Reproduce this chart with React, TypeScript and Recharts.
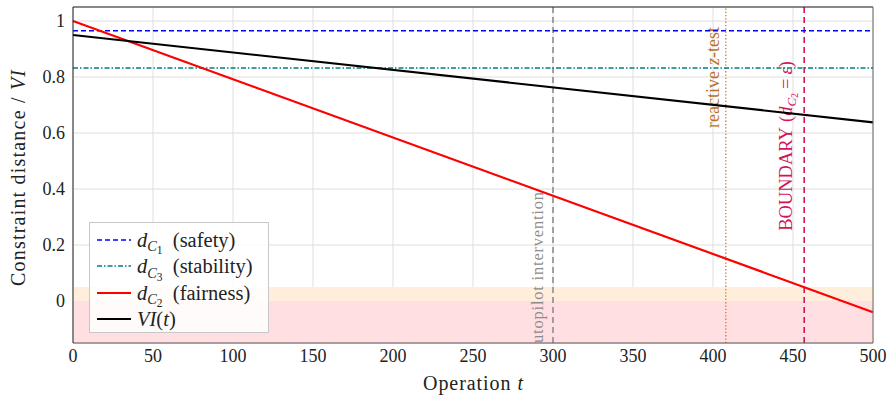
import React from "react";
import {
  LineChart,
  Line,
  XAxis,
  YAxis,
  CartesianGrid,
  ReferenceLine,
  ReferenceArea,
} from "recharts";

// Operation index at the ends of each trajectory
const operations = [0, 500];
// Constraint distances and the VI index along the run
const safetyDistance = [0.965, 0.965];
const stabilityDistance = [0.832, 0.832];
const fairnessDistance = [1.0, -0.04];
const viValues = [0.95, 0.638];

// Event markers (operation index)
const autopilotT = 300;
const zTestT = 408;
const boundaryT = 457;
const epsilon = 0.05;

const xTicks = [0, 50, 100, 150, 200, 250, 300, 350, 400, 450, 500];
const yTicks = [0, 0.2, 0.4, 0.6, 0.8, 1];

const data = operations.map((t, i) => ({
  t,
  safety: safetyDistance[i],
  stability: stabilityDistance[i],
  fairness: fairnessDistance[i],
  vi: viValues[i],
}));

const FONT = "'Liberation Serif', 'DejaVu Serif', serif";
const INK = "#222";

const W = 893;
const H = 401;
const M = { top: 7, right: 20, left: 0, bottom: 0 };
const Y_AXIS_W = 73;
const X_AXIS_H = 58;

const plotTop = M.top;
const plotBottom = H - M.bottom - X_AXIS_H;

const fmtY = (v: number) => (v === 0 ? "0" : v === 1 ? "1" : String(v));

const VerticalLabel = (props: any) => {
  const { viewBox, text, color, offset, endY, size, id, length } = props;
  const x = viewBox.x - offset;
  return (
    <g>
      <defs>
        <clipPath id={id}>
          <rect x={x - 40} y={plotTop} width={80} height={plotBottom - plotTop} />
        </clipPath>
      </defs>
      <g clipPath={`url(#${id})`}>
        <text
          x={x}
          y={endY}
          transform={`rotate(-90, ${x}, ${endY})`}
          textAnchor="end"
          fill={color}
          fontFamily={FONT}
          fontSize={size}
          textLength={length}
          lengthAdjust={length ? "spacing" : undefined}
        >
          {text}
        </text>
      </g>
    </g>
  );
};

const DSub = ({ n }: { n: string }) => (
  <span>
    <i>d</i>
    <sub style={{ fontSize: "0.7em", verticalAlign: "-0.3em", lineHeight: 0 }}>
      <i>C</i>
      <sub style={{ fontSize: "0.8em", verticalAlign: "-0.25em", lineHeight: 0 }}>{n}</sub>
    </sub>
  </span>
);

const legendItems = [
  { key: "safety", color: "#0000ff", dash: "5 3", width: 1.4, label: <><DSub n="1" />&nbsp;&nbsp;(safety)</> },
  { key: "stability", color: "#008080", dash: "5 2 1.5 2", width: 1.4, label: <><DSub n="3" />&nbsp;&nbsp;(stability)</> },
  { key: "fairness", color: "#ff0000", dash: "", width: 2.2, label: <><DSub n="2" />&nbsp;&nbsp;(fairness)</> },
  { key: "vi", color: "#000000", dash: "", width: 2.2, label: <><i>VI</i>(<i>t</i>)</> },
];

const LegendBox = () => (
  <div
    style={{
      position: "absolute",
      left: 89,
      top: 222,
      width: 180,
      height: 111,
      boxSizing: "border-box",
      background: "rgba(255,255,255,0.86)",
      border: "1px solid #c8c8c8",
      padding: "4px 0 0 7px",
      fontFamily: FONT,
      fontSize: 20.5,
      color: INK,
    }}
  >
    {legendItems.map((it) => (
      <div key={it.key} style={{ display: "flex", alignItems: "center", height: 26.3 }}>
        <svg width={34} height={10} style={{ marginRight: 6, flex: "none" }}>
          <line
            x1={0}
            y1={5}
            x2={34}
            y2={5}
            stroke={it.color}
            strokeWidth={it.width}
            strokeDasharray={it.dash || undefined}
          />
        </svg>
        <span style={{ whiteSpace: "nowrap", lineHeight: "20px" }}>{it.label}</span>
      </div>
    ))}
  </div>
);

export default function App() {
  return (
    <div style={{ position: "absolute", left: 0, top: 0, width: W, height: H, background: "#fff" }}>
      <LineChart width={W} height={H} data={data} margin={M}>
        <CartesianGrid stroke="#dedede" strokeWidth={1} />
        <ReferenceArea y1={-0.15} y2={0} x1={0} x2={500} fill="#ffdfe2" fillOpacity={1} stroke="none" />
        <ReferenceArea y1={0} y2={epsilon} x1={0} x2={500} fill="#ffeedb" fillOpacity={1} stroke="none" />
        <XAxis
          dataKey="t"
          type="number"
          domain={[0, 500]}
          ticks={xTicks}
          height={X_AXIS_H}
          tickLine={false}
          tickSize={0}
          axisLine={{ stroke: "#555" }}
          tick={{ fontFamily: FONT, fontSize: 18, fill: INK }}
          tickMargin={6}
          label={{
            content: (p: any) => {
              const vb = p.viewBox;
              return (
                <text
                  x={vb.x + vb.width / 2}
                  y={390}
                  textAnchor="middle"
                  fontFamily={FONT}
                  fontSize={20}
                  fill={INK}
                  textLength={100}
                  lengthAdjust="spacing"
                >
                  Operation <tspan fontStyle="italic">t</tspan>
                </text>
              );
            },
          }}
        />
        <YAxis
          type="number"
          domain={[-0.15, 1.05]}
          ticks={yTicks}
          width={Y_AXIS_W}
          tickLine={false}
          tickSize={0}
          axisLine={{ stroke: INK }}
          tickFormatter={fmtY}
          tick={{ fontFamily: FONT, fontSize: 18, fill: INK }}
          tickMargin={8}
          label={{
            content: () => {
              const cx = 25;
              const cy = 178;
              return (
                <text
                  x={cx}
                  y={cy}
                  transform={`rotate(-90, ${cx}, ${cy})`}
                  textAnchor="middle"
                  fontFamily={FONT}
                  fontSize={20}
                  fill={INK}
                  textLength={216}
                  lengthAdjust="spacing"
                >
                  Constraint distance / <tspan fontStyle="italic">VI</tspan>
                </text>
              );
            },
          }}
        />
        <ReferenceLine
          x={autopilotT}
          stroke="#808080"
          strokeWidth={1.4}
          strokeDasharray="6 4"
          label={(p: any) => (
            <VerticalLabel {...p} id="clipAuto" text="autopilot intervention" color="#8c8c8c" offset={10} endY={192} size={16.5} length={159} />
          )}
        />
        <ReferenceLine
          x={zTestT}
          stroke="#c87a1e"
          strokeWidth={1.3}
          strokeDasharray="1.3 2"
          label={(p: any) => (
            <VerticalLabel
              {...p}
              id="clipZ"
              text={
                <>
                  {"reactive"}
                  <tspan fontStyle="italic" dx={6}>z</tspan>
                  {"-test"}
                </>
              }
              color="#b8732a"
              offset={6.5}
              endY={27}
              size={18}
            />
          )}
        />
        <ReferenceLine
          x={boundaryT}
          stroke="#d3145a"
          strokeWidth={1.6}
          strokeDasharray="6 4"
          label={(p: any) => (
            <VerticalLabel
              {...p}
              id="clipB"
              text={
                <>
                  {"BOUNDARY"}
                  <tspan dx={5}>(</tspan>
                  <tspan fontStyle="italic">d</tspan>
                  <tspan fontStyle="italic" fontSize={13} dy={4}>C</tspan>
                  <tspan fontSize={10} dy={2}>2</tspan>
                  <tspan dy={-6} dx={4}>=</tspan>
                  <tspan fontStyle="italic" dx={4}>ε</tspan>
                  {")"}
                </>
              }
              color="#d3145a"
              offset={12}
              endY={61}
              size={18.5}
            />
          )}
        />
        <Line dataKey="safety" stroke="#0000ff" strokeWidth={1.4} strokeDasharray="5 3" dot={false} isAnimationActive={false} />
        <Line dataKey="stability" stroke="#008080" strokeWidth={1.4} strokeDasharray="5 2 1.5 2" dot={false} isAnimationActive={false} />
        <Line dataKey="fairness" stroke="#ff0000" strokeWidth={2.2} dot={false} isAnimationActive={false} />
        <Line dataKey="vi" stroke="#000000" strokeWidth={2.2} dot={false} isAnimationActive={false} />
        <ReferenceLine y={1.05} stroke={INK} strokeWidth={1} />
        <ReferenceLine x={500} stroke="#666" strokeWidth={1} />
      </LineChart>
      <LegendBox />
    </div>
  );
}
